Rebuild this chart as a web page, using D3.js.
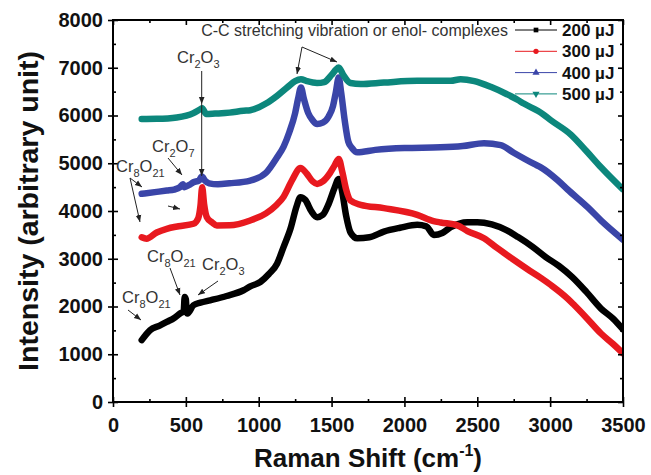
<!DOCTYPE html>
<html><head><meta charset="utf-8">
<script src="https://cdn.jsdelivr.net/npm/d3@7"></script>
<style>body{margin:0;background:#fff}svg{display:block}text{font-family:"Liberation Sans",Arial,sans-serif}</style>
</head><body><svg id="c" width="651" height="475"></svg>
<script>
// ---- data ----
const xTicks = [0,500,1000,1500,2000,2500,3000,3500];
const xMinor = [250,750,1250,1750,2250,2750,3250];
const yTicks = [0,1000,2000,3000,4000,5000,6000,7000,8000];
const yMinor = [500,1500,2500,3500,4500,5500,6500,7500];
const seriesNames = ["200 µJ","300 µJ","400 µJ","500 µJ"];
const seriesColors = ["#000000","#e8191f","#3a45a8","#0c877c"];

const shift200 = [197,254,320,369,420,460,485,492,500,505,511,552,600,667,780,896,942,1011,1070,1126,1171,1220,1260,1286,1320,1360,1401,1440,1480,1520,1549,1570,1600,1630,1676,1760,1859,1970,2088,2150,2202,2260,2317,2432,2500,2600,2700,2780,2880,2970,3060,3150,3250,3349,3430,3500];
const int200   = [1295,1504,1600,1677,1760,1853,1900,2200,2150,1900,1853,2026,2080,2130,2220,2340,2420,2513,2680,2897,3250,3650,4100,4288,4230,4000,3871,3920,4150,4480,4672,4450,3900,3550,3430,3450,3570,3650,3710,3680,3500,3540,3660,3767,3767,3720,3600,3454,3250,3036,2850,2620,2300,1957,1750,1520];

const shift300 = [197,230,300,369,450,552,585,600,612,625,644,680,713,800,942,1050,1120,1171,1230,1286,1330,1370,1401,1440,1490,1520,1549,1575,1600,1630,1700,1859,2088,2200,2248,2363,2432,2546,2638,2740,2860,2936,3005,3120,3165,3250,3349,3430,3500];
const int300   = [3450,3420,3550,3628,3680,3733,3850,4100,4497,4150,3870,3760,3697,3700,3802,3950,4120,4300,4650,4900,4780,4620,4568,4620,4800,4950,5090,4800,4450,4219,4130,4060,3920,3790,3760,3700,3580,3430,3220,3000,2750,2600,2450,2166,2030,1760,1434,1220,1020];

const shift400 = [197,300,369,420,460,480,490,520,552,590,610,630,660,720,800,942,1050,1126,1171,1210,1250,1270,1290,1310,1340,1370,1401,1440,1480,1510,1530,1549,1565,1590,1615,1640,1676,1800,2000,2248,2400,2546,2661,2750,2890,2936,3050,3120,3257,3350,3500];
const int400   = [4360,4400,4428,4450,4500,4560,4500,4540,4602,4640,4720,4640,4580,4560,4580,4637,4800,5124,5350,5650,6050,6350,6586,6350,6050,5900,5821,5850,5980,6200,6500,6795,6500,5900,5450,5320,5228,5280,5320,5333,5360,5420,5380,5220,4985,4915,4650,4450,4080,3800,3400];

const shift500 = [197,300,438,552,600,612,640,700,800,896,942,1050,1126,1200,1250,1290,1330,1400,1450,1500,1530,1549,1580,1630,1700,1859,2088,2317,2386,2480,2592,2700,2776,2819,2950,3005,3142,3250,3349,3500];
const int500   = [5926,5930,5960,6050,6134,6150,6030,6040,6060,6099,6110,6250,6412,6600,6720,6760,6720,6680,6700,6850,6960,7004,6850,6680,6660,6690,6726,6726,6760,6720,6600,6450,6330,6250,6030,5900,5600,5250,4915,4450];

const shifts = [shift200, shift300, shift400, shift500];
const intensities = [int200, int300, int400, int500];

// ---- chart ----
const svg = d3.select("#c");
const L = 113, R = 623, T = 20, B = 402;
const x = d3.scaleLinear().domain([0,3500]).range([L,R]);
const y = d3.scaleLinear().domain([0,8000]).range([B,T]);

svg.append("defs").append("clipPath").attr("id","clip")
  .append("rect").attr("x",L).attr("y",T).attr("width",R-L).attr("height",B-T);
const mk = svg.select("defs").append("marker").attr("id","ah")
  .attr("viewBox","0 0 10 10").attr("refX",10).attr("refY",5)
  .attr("markerWidth",7).attr("markerHeight",7).attr("markerUnits","userSpaceOnUse")
  .attr("orient","auto");
mk.append("path").attr("d","M0,1 L10,5 L0,9 Z").attr("fill","#222");

const line = d3.line().x(d=>x(d[0])).y(d=>y(d[1])).curve(d3.curveMonotoneX);
const gc = svg.append("g").attr("clip-path","url(#clip)");
shifts.forEach((s,i)=>{
  const pts = s.map((v,j)=>[v,intensities[i][j]]);
  gc.append("path").attr("d",line(pts)).attr("fill","none")
    .attr("stroke",seriesColors[i]).attr("stroke-width",6.5)
    .attr("stroke-linejoin","round").attr("stroke-linecap","round");
});

// axes
function styleAxis(g){ g.select(".domain").remove(); g.selectAll("line").attr("stroke","#000").attr("stroke-width",1.6); }
const lbl = g=>g.selectAll("text").attr("font-size",20).attr("font-weight","bold").attr("fill","#111").style("font-family","'Liberation Sans',Arial,sans-serif");
// bottom
svg.append("g").attr("transform",`translate(0,${B})`).call(d3.axisBottom(x).tickValues(xTicks).tickSize(5).tickPadding(6).tickFormat(d3.format("d"))).call(styleAxis).call(lbl).selectAll("text").attr("dy","0.95em");
svg.append("g").attr("transform",`translate(0,${B})`).call(d3.axisBottom(x).tickValues(xTicks).tickSize(-5).tickFormat("")).call(styleAxis);
svg.append("g").attr("transform",`translate(0,${B})`).call(d3.axisBottom(x).tickValues(xMinor).tickSize(-3).tickFormat("")).call(styleAxis);
// top mirror
svg.append("g").attr("transform",`translate(0,${T})`).call(d3.axisTop(x).tickValues(xTicks).tickSize(-5).tickFormat("")).call(styleAxis);
svg.append("g").attr("transform",`translate(0,${T})`).call(d3.axisTop(x).tickValues(xMinor).tickSize(-3).tickFormat("")).call(styleAxis);
// left
svg.append("g").attr("transform",`translate(${L},0)`).call(d3.axisLeft(y).tickValues(yTicks).tickSize(5).tickPadding(5).tickFormat(d3.format("d"))).call(styleAxis).call(lbl);
svg.append("g").attr("transform",`translate(${L},0)`).call(d3.axisLeft(y).tickValues(yTicks).tickSize(-5).tickFormat("")).call(styleAxis);
svg.append("g").attr("transform",`translate(${L},0)`).call(d3.axisLeft(y).tickValues(yMinor).tickSize(-3).tickFormat("")).call(styleAxis);
// right mirror
svg.append("g").attr("transform",`translate(${R},0)`).call(d3.axisRight(y).tickValues(yTicks).tickSize(-5).tickFormat("")).call(styleAxis);
svg.append("g").attr("transform",`translate(${R},0)`).call(d3.axisRight(y).tickValues(yMinor).tickSize(-3).tickFormat("")).call(styleAxis);

// frame
svg.append("rect").attr("x",L).attr("y",T).attr("width",R-L).attr("height",B-T)
  .attr("fill","none").attr("stroke","#000").attr("stroke-width",2);

// axis titles
const xt = svg.append("text").attr("x",(L+R)/2).attr("y",467).attr("text-anchor","middle")
  .attr("font-size",26).attr("font-weight","bold").attr("fill","#111");
xt.append("tspan").text("Raman Shift (cm");
xt.append("tspan").text("-1").attr("font-size",16).attr("dy",-11);
xt.append("tspan").text(")").attr("dy",11);
svg.append("text").attr("transform",`translate(38,${(T+B)/2}) rotate(-90)`).attr("text-anchor","middle")
  .attr("font-size",28.5).attr("font-weight","bold").attr("fill","#111").text("Intensity (arbitrary unit)");

// legend
const symbols = [d3.symbolSquare, d3.symbolCircle, d3.symbolTriangle, d3.symbolTriangle];
seriesNames.forEach((n,i)=>{
  const ly = 30 + i*21.3;
  svg.append("line").attr("x1",515).attr("x2",557).attr("y1",ly).attr("y2",ly)
    .attr("stroke",seriesColors[i]).attr("stroke-width",1);
  svg.append("path").attr("d",d3.symbol(symbols[i],22)())
    .attr("transform",`translate(536,${ly}) rotate(${i===3?180:0})`).attr("fill",seriesColors[i]);
  svg.append("text").attr("x",562).attr("y",ly+6).attr("font-size",17).attr("font-weight","bold")
    .attr("fill","#111").text(n);
});

// annotations
function chem(px,py,parts){
  const t = svg.append("text").attr("x",px).attr("y",py).attr("font-size",16.5).attr("fill","#333");
  let sub=false;
  parts.forEach(p=>{
    const isSub = /^[0-9]+$/.test(p);
    const ts = t.append("tspan").text(p).attr("font-size", isSub?11:16.5);
    if(isSub && !sub) ts.attr("dy",5); else if(!isSub && sub) ts.attr("dy",-5);
    sub = isSub;
  });
}
function arrow(x1,y1,x2,y2){
  svg.append("line").attr("x1",x1).attr("y1",y1).attr("x2",x2).attr("y2",y2)
    .attr("stroke","#222").attr("stroke-width",1).attr("marker-end","url(#ah)");
}
svg.append("text").attr("x",508).attr("y",36).attr("text-anchor","end").attr("font-size",16)
  .attr("fill","#333").text("C-C stretching vibration or enol- complexes");
arrow(302,47,297,74); arrow(302,47,337,62);

chem(177,63,["Cr","2","O","3"]);
arrow(201.7,71,201.7,104); arrow(201.7,104,201.7,176);
chem(152,152,["Cr","2","O","7"]);
arrow(168,158,182,175);
chem(116,172,["Cr","8","O","21"]);
arrow(130,178,142,187); arrow(130,178,140,222);
arrow(168,206,180,209);
chem(147,262,["Cr","8","O","21"]);
arrow(170,268,180,295);
chem(202,270,["Cr","2","O","3"]);
arrow(218,281,198,295);
chem(122,303,["Cr","8","O","21"]);
arrow(128,310,141,320);
</script></body></html>
